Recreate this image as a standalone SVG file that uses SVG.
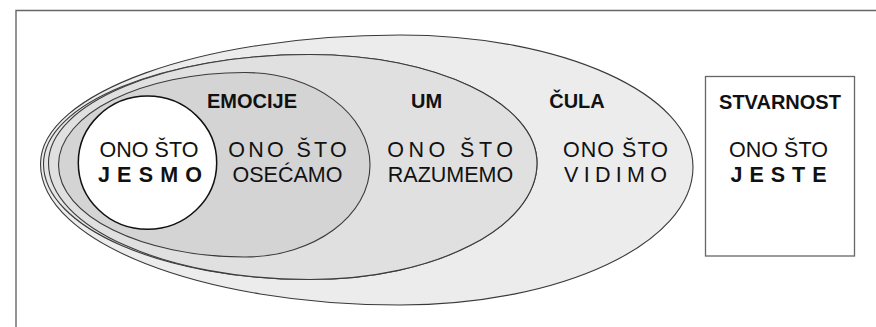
<svg xmlns="http://www.w3.org/2000/svg" width="876" height="327" viewBox="0 0 876 327">
<style>
.shape{stroke:#3a3a3a;stroke-width:1.1}
.t{font-family:"Liberation Sans",Arial,sans-serif;font-size:21.5px;fill:#111;text-anchor:middle}
.b{font-weight:bold}
.lbl{font-family:"Liberation Sans",Arial,sans-serif;font-size:20px;font-weight:bold;fill:#111;text-anchor:middle}
</style>
<rect width="876" height="327" fill="#ffffff"/>
<g id="frame">
<path d="M16,327 V10.5 H876" fill="none" stroke="#666" stroke-width="1.4"/>
</g>
<g id="cula">
<path class="shape" fill="#ececec" d="M40.5,164 C40.5,93 201.5,35 400,35 C561.8,35 693,94 693,167 C693,243 561.8,305 400,305 C201.5,305 40.5,242 40.5,164Z"/>
<text class="lbl" x="577" y="108">ČULA</text>
<text class="t" x="616" y="157" letter-spacing="1">ONO ŠTO</text>
<text class="t" x="618.2" y="182" letter-spacing="5.3">VIDIMO</text>
</g>
<g id="um">
<path class="shape" fill="#e5e5e5" d="M43.5,164 C43.5,104 162.8,54.5 310,54.5 C435.4,54.5 537,103.1 537,163 C537,227.3 435.4,279.5 310,279.5 C162.8,279.5 43.5,227.3 43.5,164Z"/>
<path class="shape" fill="#e0e0e0" d="M48.5,163 C48.5,103.1 165.6,54.5 310,54.5 C435.4,54.5 537,103.1 537,163 C537,227.3 435.4,279.5 310,279.5 C165.6,279.5 48.5,227.3 48.5,163Z"/>
<text class="lbl" x="426.5" y="108">UM</text>
<text class="t" x="452.3" y="157" letter-spacing="4.5">ONO ŠTO</text>
<text class="t" x="450.5" y="182">RAZUMEMO</text>
</g>
<g id="emocije">
<path class="shape" fill="#d4d4d4" d="M58.5,165 C58.5,113.9 142,72.5 245,72.5 C314,72.5 370,113.9 370,165 C370,215.8 314,257 245,257 C142,257 58.5,215.8 58.5,165Z"/>
<text class="lbl" x="252" y="108">EMOCIJE</text>
<text class="t" x="289.2" y="157" letter-spacing="3.3">ONO ŠTO</text>
<text class="t" x="287.5" y="182">OSEĆAMO</text>
</g>
<g id="jesmo">
<ellipse cx="147.5" cy="162.7" rx="69.2" ry="66.6" fill="#ffffff" stroke="#111" stroke-width="1.5"/>
<text class="t" x="149" y="157">ONO ŠTO</text>
<text class="t b" x="153.6" y="182" letter-spacing="7.2">JESMO</text>
</g>
<g id="stvarnost">
<rect x="705.5" y="76.5" width="149" height="179.5" fill="#ffffff" stroke="#666" stroke-width="1.3"/>
<text class="lbl" x="780" y="108.5">STVARNOST</text>
<text class="t" x="778.5" y="157">ONO ŠTO</text>
<text class="t b" x="782" y="182" letter-spacing="7">JESTE</text>
</g>
</svg>
